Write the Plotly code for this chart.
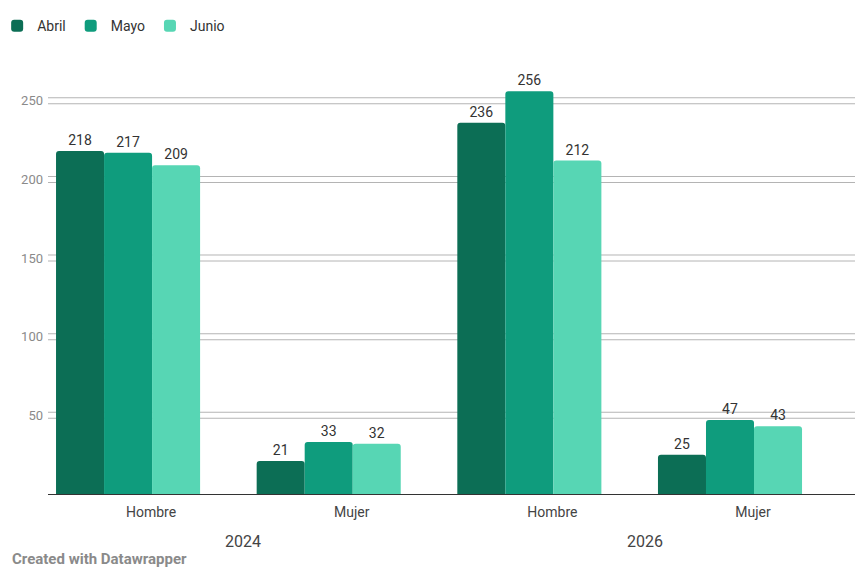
import plotly.graph_objects as go

years = ["2024", "2024", "2026", "2026"]
groups = ["Hombre", "Mujer", "Hombre", "Mujer"]
series_names = ["Abril", "Mayo", "Junio"]
abril = [218, 21, 236, 25]
mayo = [217, 33, 256, 47]
junio = [209, 32, 212, 43]
colors = ["#0c6e55", "#0f9c7d", "#57d6b4"]
y_ticks = [50, 100, 150, 200, 250]

xpos = list(range(len(groups)))

fig = go.Figure()
for name, vals, col in zip(series_names, [abril, mayo, junio], colors):
    fig.add_trace(go.Bar(
        x=xpos, y=vals, name=name,
        marker=dict(color=col, line=dict(width=0)),
        text=[str(v) for v in vals], textposition="outside",
        textfont=dict(size=14, color="#333333"),
        cliponaxis=False,
    ))

# gridlines: white line with a grey halo
for t in y_ticks:
    fig.add_shape(type="line", xref="paper", yref="y", x0=0, x1=1, y0=t, y1=t,
                  line=dict(color="#b4b4b4", width=7), layer="below")
    fig.add_shape(type="line", xref="paper", yref="y", x0=0, x1=1, y0=t, y1=t,
                  line=dict(color="white", width=5), layer="below")

annotations = []
for yr in sorted(set(years)):
    idx = [i for i, y in enumerate(years) if y == yr]
    annotations.append(dict(text=yr, xref="x", yref="paper", x=sum(idx) / len(idx),
                            y=-0.115, yanchor="middle", xanchor="center", xshift=15,
                            showarrow=False, font=dict(size=16, color="#444444")))
annotations.append(dict(text="<b>Created with Datawrapper</b>", xref="paper", yref="paper",
                        x=-0.047, xanchor="left", y=-0.159, yanchor="middle", showarrow=False,
                        font=dict(size=15, color="#8a8a8a")))

fig.update_layout(
    width=860, height=579,
    paper_bgcolor="white", plot_bgcolor="white",
    font=dict(family="Roboto, Arial, sans-serif", size=14, color="#444444"),
    margin=dict(l=40, r=13, t=77, b=93, autoexpand=False),
    barmode="group", bargap=0.282, bargroupgap=0, barcornerradius=3,
    showlegend=True,
    legend=dict(orientation="h", x=-0.063, xanchor="left", y=1.144, yanchor="middle",
                font=dict(size=14, color="#333333"), traceorder="normal"),
    xaxis=dict(range=[-0.399, 3.623], tickvals=xpos, ticktext=groups, showgrid=False,
               showline=False, ticks="", zeroline=False, automargin=False,
               ticklabelshift=23, ticklabelstandoff=8,
               tickfont=dict(size=14, color="#444444")),
    yaxis=dict(range=[0, 260], tickvals=y_ticks, showgrid=False,
               zeroline=True, zerolinecolor="#333333", zerolinewidth=1,
               showline=False, ticks="", automargin=False,
               tickfont=dict(size=13, color="#8a8a8a"), ticklabelstandoff=4),
    annotations=annotations,
)

fig.write_html("out.html")
